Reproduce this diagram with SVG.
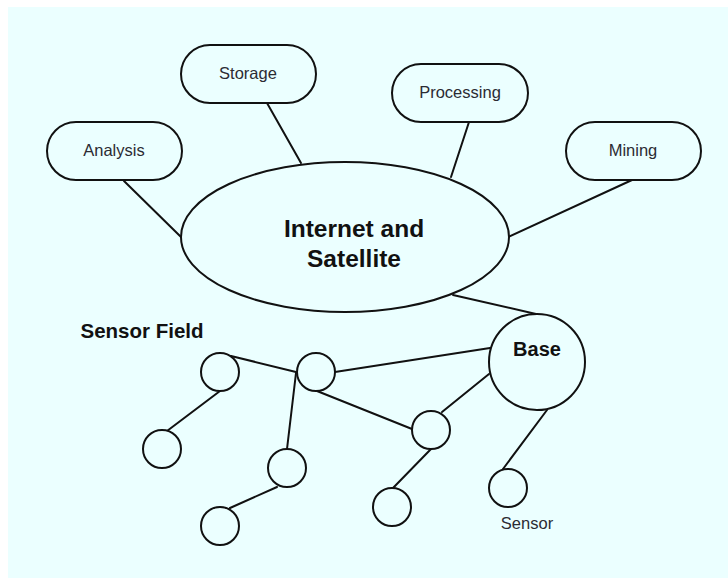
<svg xmlns="http://www.w3.org/2000/svg" width="728" height="578" viewBox="0 0 728 578">
  <style>
    .shape { fill: #ebffff; stroke: #111; stroke-width: 2; }
    .link { stroke: #111; stroke-width: 2; fill: none; stroke-linecap: round; }
    .label { font-family: "Liberation Sans", Arial, sans-serif; font-size: 16.5px; fill: #2b2b33; text-anchor: middle; }
    .title { font-family: "Liberation Sans", Arial, sans-serif; font-weight: bold; fill: #111; text-anchor: middle; }
  </style>

  <!-- page -->
  <rect x="0" y="0" width="728" height="578" fill="#ffffff"/>
  <rect x="8" y="7" width="720" height="571" fill="#ebffff"/>

  <!-- connectors -->
  <g id="connectors">
    <line class="link" x1="124" y1="181" x2="181" y2="237"/>
    <line class="link" x1="267" y1="103" x2="301" y2="163"/>
    <line class="link" x1="469" y1="122" x2="451" y2="177"/>
    <line class="link" x1="632" y1="180" x2="508" y2="237"/>
    <line class="link" x1="453" y1="295" x2="536" y2="314"/>
    <line class="link" x1="231" y1="356" x2="296" y2="372"/>
    <line class="link" x1="296" y1="373" x2="287" y2="449"/>
    <line class="link" x1="220" y1="391" x2="167" y2="431"/>
    <line class="link" x1="277" y1="487" x2="230" y2="508"/>
    <line class="link" x1="335" y1="372" x2="490" y2="348"/>
    <line class="link" x1="317" y1="391" x2="412" y2="429"/>
    <line class="link" x1="442" y1="412" x2="489" y2="374"/>
    <line class="link" x1="431" y1="449" x2="393" y2="488"/>
    <line class="link" x1="547" y1="410" x2="503" y2="469"/>
  </g>

  <g id="analysis">
    <rect class="shape" x="47" y="122" width="135" height="58" rx="29"/>
    <text class="label" x="114" y="156">Analysis</text>
  </g>
  <g id="storage">
    <rect class="shape" x="181" y="45" width="135" height="58" rx="29"/>
    <text class="label" x="248" y="79">Storage</text>
  </g>
  <g id="processing">
    <rect class="shape" x="392" y="64" width="136" height="58" rx="29"/>
    <text class="label" x="460" y="98">Processing</text>
  </g>
  <g id="mining">
    <rect class="shape" x="566" y="122" width="135" height="58" rx="29"/>
    <text class="label" x="633" y="156">Mining</text>
  </g>

  <g id="internet-satellite">
    <ellipse class="shape" cx="345" cy="237" rx="164" ry="75"/>
    <text class="title" x="354" y="237" font-size="24.5">Internet and</text>
    <text class="title" x="354" y="267" font-size="24.5">Satellite</text>
  </g>

  <g id="sensor-field-label">
    <text class="title" x="142" y="338" font-size="20.5">Sensor Field</text>
  </g>

  <g id="base">
    <circle class="shape" cx="537" cy="362" r="48"/>
    <text class="title" x="537" y="356" font-size="20">Base</text>
  </g>

  <g id="sensor-1"><circle class="shape" cx="220" cy="372" r="19"/></g>
  <g id="sensor-2"><circle class="shape" cx="316" cy="372" r="19"/></g>
  <g id="sensor-3"><circle class="shape" cx="162" cy="449" r="19"/></g>
  <g id="sensor-4"><circle class="shape" cx="287" cy="468" r="19"/></g>
  <g id="sensor-5"><circle class="shape" cx="220" cy="526" r="19"/></g>
  <g id="sensor-6"><circle class="shape" cx="431" cy="430" r="19"/></g>
  <g id="sensor-7"><circle class="shape" cx="392" cy="507" r="19"/></g>
  <g id="sensor-8">
    <circle class="shape" cx="508" cy="488" r="19"/>
    <text class="label" x="527" y="529">Sensor</text>
  </g>
</svg>
